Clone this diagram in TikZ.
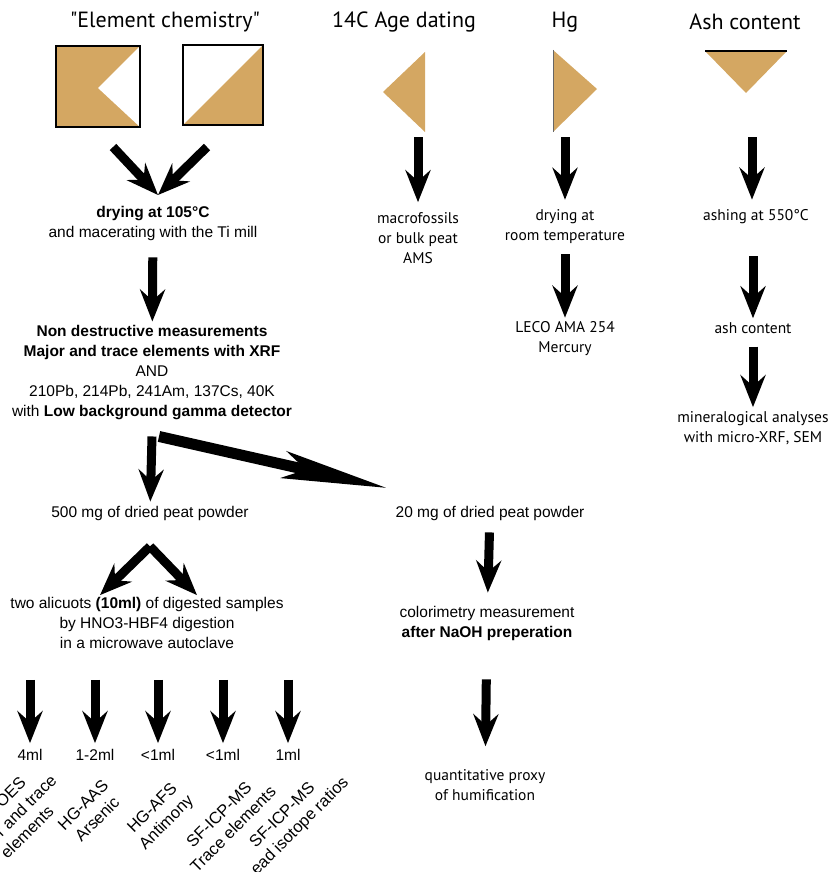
\documentclass[tikz,border=0pt]{standalone}
\usepackage{fontspec}
\setmainfont{Liberation Sans}
\newfontfamily\myriad{PT Sans}
\usetikzlibrary{arrows.meta, positioning}
\definecolor{peat}{RGB}{212,167,98}

\begin{document}
\begin{tikzpicture}[
            x=1pt, y=-1pt,
            head/.style = {inner sep=0pt, font=\myriad\fontsize{22}{26}\selectfont},
            txt/.style = {align=center, inner sep=0pt, font=\fontsize{15.5}{20}\selectfont},
            soft/.style = {align=center, inner sep=0pt, font=\myriad\fontsize{15.5}{20}\selectfont},
            method/.style = {align=center, inner sep=0pt, rotate=45, font=\fontsize{16.5}{20}\selectfont},
            flow/.style = {line width=9pt, -{Stealth[length=32pt, width=25pt, inset=11pt]},
                           shorten <=15pt, shorten >=4pt},
            longflow/.style = {line width=11pt, -{Stealth[length=105pt, width=27pt, inset=22pt]}},
        ]
            \useasboundingbox (0,0) rectangle (836,872);

            % Column headings
            \node[head] (hElem) at (165,22) {"Element chemistry"};
            \node[head] (h14C) at (404,22) {14C Age dating};
            \node[head] (hHg) at (565,22) {Hg};
            \node[head] (hAsh) at (745,22) {Ash content};

            % Sample icons
            \fill[peat] (56,46) rectangle (140,127);
            \fill[white] (140,46) -- (98,88) -- (140,127) -- cycle;
            \draw[line width=1.2pt] (56,46) rectangle (140,127);
            \fill[peat] (263,45) -- (263,125) -- (183,125) -- cycle;
            \draw[line width=1.2pt] (183,45) rectangle (263,125);
            \fill[peat] (425,52) -- (425,132) -- (383,92) -- cycle;
            \fill[peat] (553,50) -- (553,132) -- (597,89) -- cycle;
            \draw[line width=0.6pt, black!60] (553,50) -- (553,132);
            \fill[peat] (705,51) -- (787,51) -- (746,93) -- cycle;
            \draw[line width=1.2pt] (705,51) -- (787,51);

            \coordinate (sqL) at (113,147);
            \coordinate (sqR) at (207,147);
            \coordinate (meet) at (158,195);
            \coordinate (tri14C) at (418,137);
            \coordinate (triHg) at (565,137);
            \coordinate (triAsh) at (752,137);

            % Element chemistry branch
            \node[txt] (dry) at (153,223) {\textbf{drying at 105°C}\\and macerating with the Ti mill};
            \node[txt] (nondest) at (152,373) {\textbf{Non destructive measurements}\\
                \textbf{Major and trace elements with XRF}\\AND\\
                210Pb, 214Pb, 241Am, 137Cs, 40K\\with \textbf{Low background gamma detector}};
            \coordinate[below=16pt of nondest] (branch);
            \node[txt] (mg500) at (150,513) {500 mg of dried peat powder};
            \node[txt] (mg20) at (490,513) {20 mg of dried peat powder};
            \coordinate (split) at (387,488);
            \coordinate[below=26pt of mg500] (fork);
            \node[txt] (aliq) at (147,623) {two alicuots \textbf{(10ml)} of digested samples\\
                by HNO3-HBF4 digestion\\in a microwave autoclave};
            \node[txt] (colori) at (487,623) {colorimetry measurement\\\textbf{after NaOH preperation}};
            \node[soft] (proxy) at (485,785) {quantitative proxy\\of humification};

            % Aliquot volumes and methods
            \node[txt] (ml1) at (30,755) {4ml};
            \node[txt] (ml2) at (95,755) {1-2ml};
            \node[txt] (ml3) at (158,755) {<1ml};
            \node[txt] (ml4) at (223,755) {<1ml};
            \node[txt] (ml5) at (288,755) {1ml};
            \node[method] (icp) at (13,818) {ICP-OES\\Major and trace\\elements};
            \node[method] (aas) at (90,812) {HG-AAS\\Arsenic};
            \node[method] (afs) at (160,816) {HG-AFS\\Antimony};
            \node[method] (sft) at (226,822) {SF-ICP-MS\\Trace elements};
            \node[method] (sfl) at (290,823) {SF-ICP-MS\\Lead isotope ratios};

            % 14C, Hg and ash columns
            \node[soft] (macro) at (418,238) {macrofossils\\or bulk peat\\AMS};
            \node[soft] (hgdry) at (565,227) {drying at\\room temperature};
            \node[soft] (leco) at (565,339) {LECO AMA 254\\Mercury};
            \node[soft] (ashing) at (756,217) {ashing at 550°C};
            \node[soft] (ashc) at (753,328) {ash content};
            \node[soft] (mineral) at (753,428) {mineralogical analyses\\with micro-XRF, SEM};

            % Arrows
            \draw[flow, shorten <=0pt, shorten >=0pt] (sqL) -- (meet);
            \draw[flow, shorten <=0pt, shorten >=0pt] (sqR) -- (meet);
            \draw[flow, shorten <=17pt] (dry) -- (nondest);
            \draw[flow, shorten <=0pt] (branch) -- (mg500);
            \draw[longflow] ([xshift=7pt]branch) -- (split);
            \draw[flow, shorten <=0pt, shorten >=0pt] (fork) -- ([xshift=-47pt, yshift=2pt]aliq.north);
            \draw[flow, shorten <=0pt, shorten >=0pt] (fork) -- ([xshift=50pt, yshift=2pt]aliq.north);
            \foreach \m in {ml1,ml2,ml3,ml4,ml5}
                \draw[flow, shorten <=31pt, shorten >=6pt] (aliq.south -| \m) -- (\m);
            \draw[flow, shorten <=12pt, shorten >=13pt] (mg20) -- (colori);
            \draw[flow, shorten <=39pt, shorten >=23pt] (colori) -- (proxy);

            \draw[flow, shorten <=0pt, shorten >=10pt] (tri14C) -- (macro);
            \draw[flow, shorten <=0pt, shorten >=10pt] (triHg) -- (hgdry);
            \draw[flow, shorten <=10pt] (hgdry) -- (leco);
            \draw[flow, shorten <=0pt, shorten >=10pt] (triAsh) -- (triAsh |- ashing.north);
            \draw[flow, shorten <=32pt] (ashing.south -| ashc) -- (ashc);
            \draw[flow, shorten <=13pt] (ashc) -- (mineral.north -| ashc);
        \end{tikzpicture}
\end{document}
